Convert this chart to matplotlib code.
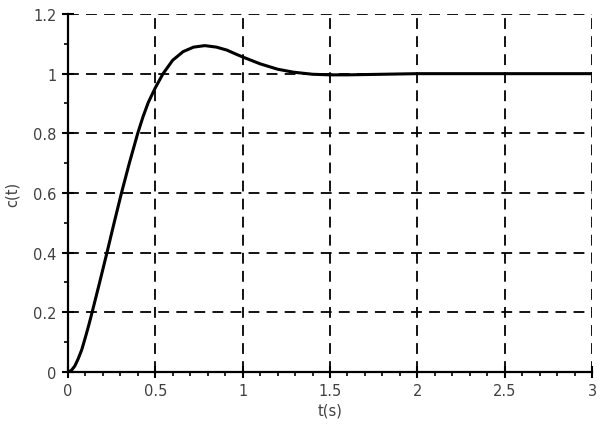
import matplotlib
matplotlib.use("Agg")
import matplotlib.pyplot as plt
from matplotlib.ticker import MultipleLocator

t = [0, 0.02, 0.04, 0.06, 0.08, 0.10, 0.12, 0.139, 0.182, 0.224, 0.265,
     0.307, 0.352, 0.40, 0.43, 0.46, 0.50, 0.545, 0.60, 0.66, 0.72, 0.784,
     0.85, 0.91, 0.96, 1.0, 1.1, 1.2, 1.29, 1.4, 1.5, 1.6, 1.7, 1.8, 1.9,
     2.0, 2.5, 3.0]
c = [0, 0.005, 0.02, 0.045, 0.075, 0.115, 0.157, 0.2, 0.3, 0.4, 0.5,
     0.6, 0.7, 0.8, 0.855, 0.903, 0.952, 1.0, 1.045, 1.074, 1.089, 1.094,
     1.089, 1.079, 1.066, 1.056, 1.033, 1.015, 1.005, 0.998, 0.996, 0.996,
     0.997, 0.998, 0.999, 1.0, 1.0, 1.0]

x_ticks = [0, 0.5, 1, 1.5, 2, 2.5, 3]
x_labels = ["0", "0.5", "1", "1.5", "2", "2.5", "3"]
y_ticks = [0, 0.2, 0.4, 0.6, 0.8, 1.0, 1.2]
y_labels = ["0", "0.2", "0.4", "0.6", "0.8", "1", "1.2"]

fig = plt.figure(figsize=(6, 4.31), dpi=100)
ax = fig.add_axes([0.113, 0.1346, 0.874, 0.8306])

ax.plot(t, c, color="black", lw=2.2, zorder=3)

ax.set_xlim(0, 3)
ax.set_ylim(0, 1.2)
ax.set_xticks(x_ticks, x_labels)
ax.set_yticks(y_ticks, y_labels)
ax.xaxis.set_minor_locator(MultipleLocator(0.1))
ax.yaxis.set_minor_locator(MultipleLocator(0.1))

ax.grid(True, which="major", color="black", linestyle=(0, (6, 4)), lw=1.3)

for s in ["top", "right"]:
    ax.spines[s].set_visible(False)
for s in ["left", "bottom"]:
    ax.spines[s].set_linewidth(1.6)
    ax.spines[s].set_zorder(4)

ax.tick_params(which="major", direction="inout", length=8, width=1.5,
               labelsize=10.5, labelcolor="#404040", pad=4)
ax.tick_params(which="minor", direction="out", length=3, width=1.2)

ax.set_xlabel("t(s)", fontsize=10.5, color="#404040", labelpad=3)
ax.set_ylabel("c(t)", fontsize=10.5, color="#404040", labelpad=10)

fig.savefig("out.png", dpi=100)
